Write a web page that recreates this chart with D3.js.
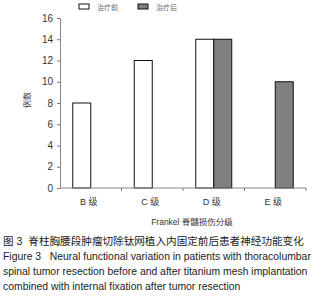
<!DOCTYPE html>
<html>
<head>
<meta charset="utf-8">
<script src="https://cdn.jsdelivr.net/npm/d3@7"></script>
<style>
  body { margin: 0; background: #fff; overflow: hidden; }
  svg { display: block; font-family: "Liberation Sans", Arial, "Noto Sans CJK SC", sans-serif; }
  .cap { white-space: pre; }
</style>
</head>
<body>
<div class="canvas"></div>
<script>
const categories = ["B 级", "C 级", "D 级", "E 级"];
const seriesNames = ["治疗前", "治疗后"];
const before = [8, 12, 14, 0];
const after = [0, 0, 14, 10];
const yTicks = [0, 2, 4, 6, 8, 10, 12, 14, 16];
const captionLines = [
  "图 3  脊柱胸腰段肿瘤切除钛网植入内固定前后患者神经功能变化",
  "Figure 3   Neural functional variation in patients with thoracolumbar",
  "spinal tumor resection before and after titanium mesh implantation",
  "combined with internal fixation after tumor resection"
];

const width = 328;
const height = 300;
const margin = { top: 18, right: 22, bottom: 112, left: 60 };
const innerWidth = width - margin.left - margin.right;
const innerHeight = height - margin.top - margin.bottom;
const fontFamily = '"Liberation Sans", Arial, "Noto Sans CJK SC", sans-serif';

const svg = d3
  .select(".canvas")
  .append("svg")
  .attr("width", width)
  .attr("height", height);

const g = svg
  .append("g")
  .attr("transform", `translate(${margin.left}, ${margin.top})`);

const x = d3.scaleBand().domain(categories).range([0, innerWidth]);
const xSub = d3
  .scaleBand()
  .domain(seriesNames)
  .range([x.bandwidth() / 2 - 18, x.bandwidth() / 2 + 18]);
const y = d3.scaleLinear().domain([0, 16]).range([innerHeight, 0]);
const fills = ["#ffffff", "#808080"];

const rows = categories.map((c, i) => ({ cat: c, vals: [before[i], after[i]] }));

const group = g
  .selectAll(".grp")
  .data(rows)
  .enter()
  .append("g")
  .attr("class", "grp")
  .attr("transform", (d) => `translate(${x(d.cat)}, 0)`);

group
  .selectAll("rect")
  .data((d) =>
    d.vals.map((v, j) => ({ v, s: seriesNames[j], j })).filter((e) => e.v > 0)
  )
  .enter()
  .append("rect")
  .attr("x", (d) => xSub(d.s))
  .attr("y", (d) => y(d.v))
  .attr("width", xSub.bandwidth())
  .attr("height", (d) => innerHeight - y(d.v))
  .attr("fill", (d) => fills[d.j])
  .attr("stroke", "#111")
  .attr("stroke-width", 1);

// y axis
const yAxis = g
  .append("g")
  .call(d3.axisLeft(y).tickValues(yTicks).tickSize(3).tickPadding(4))
  .attr("font-family", fontFamily);
yAxis.select(".domain").attr("stroke", "#888");
yAxis.selectAll(".tick line").attr("stroke", "#777");
yAxis.selectAll("text").attr("font-size", 10).attr("fill", "#333");

// x axis, ticks between the groups
const xAxis = g.append("g").attr("transform", `translate(0, ${innerHeight})`);
xAxis
  .append("line")
  .attr("x1", 0)
  .attr("x2", innerWidth)
  .attr("stroke", "#888");
xAxis
  .selectAll(".xt")
  .data(categories)
  .enter()
  .append("line")
  .attr("x1", (d) => x(d) + x.step())
  .attr("x2", (d) => x(d) + x.step())
  .attr("y1", 0)
  .attr("y2", 3)
  .attr("stroke", "#777");
xAxis
  .selectAll(".xl")
  .data(categories)
  .enter()
  .append("text")
  .attr("x", (d) => x(d) + x.bandwidth() / 2 - 2)
  .attr("y", 17)
  .attr("text-anchor", "middle")
  .attr("font-size", 9)
  .attr("fill", "#333")
  .text((d) => d);

// axis titles
svg
  .append("text")
  .attr("x", 192)
  .attr("y", 225)
  .attr("text-anchor", "middle")
  .attr("font-size", 8.5)
  .attr("fill", "#333")
  .text("Frankel 脊髓损伤分级");

svg
  .append("text")
  .attr("transform", "translate(30, 100) rotate(-90)")
  .attr("text-anchor", "middle")
  .attr("font-size", 8)
  .attr("fill", "#333")
  .text("例数");

// legend
const legend = svg.append("g").attr("transform", "translate(79, 4)");
const item = legend
  .selectAll("g")
  .data(seriesNames)
  .enter()
  .append("g")
  .attr("transform", (d, i) => `translate(${i * 59}, 0)`);
item
  .append("rect")
  .attr("width", 10)
  .attr("height", 5)
  .attr("fill", (d, i) => fills[i])
  .attr("stroke", "#111");
item
  .append("text")
  .attr("x", 18)
  .attr("y", 6)
  .attr("font-size", 7)
  .attr("fill", "#666")
  .text((d) => d);

// caption
svg
  .selectAll(".cap")
  .data(captionLines)
  .enter()
  .append("text")
  .attr("class", "cap")
  .attr("x", 3)
  .attr("y", (d, i) => 245 + i * 15)
  .attr("font-size", (d, i) => (i === 0 ? 10.6 : 10.4))
  .attr("fill", "#222")
  .text((d) => d);
</script>
</body>
</html>
